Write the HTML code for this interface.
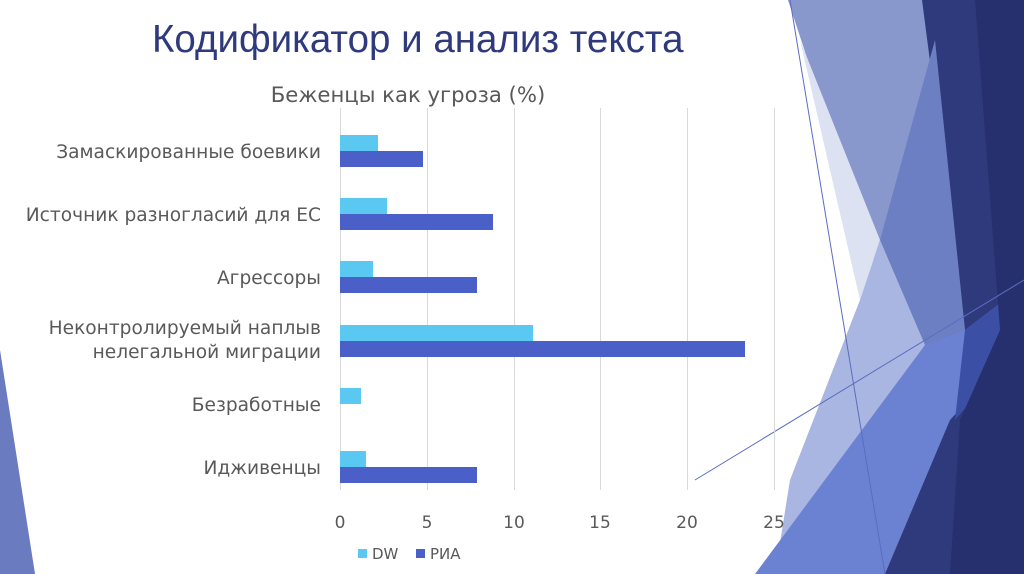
<!DOCTYPE html>
<html><head><meta charset="utf-8"><style>
body{margin:0;width:1024px;height:574px;overflow:hidden;background:#fff;font-family:"DejaVu Sans",sans-serif}
</style></head><body>
<svg width="1024" height="574" viewBox="0 0 1024 574" xmlns="http://www.w3.org/2000/svg" style="position:absolute;left:0;top:0">
<polygon points="0,350 35,574 0,574" fill="#6b7bbf"/>
<polygon points="922,0 1024,0 1024,574 873,574 925,345" fill="#2e3a7c"/>
<polygon points="788,0 922,0 965,330 920,380 870,250" fill="#8898cc"/>
<polygon points="935,40 965,330 920,380 880,240" fill="#6d7fc3"/>
<polygon points="800,40 880,240 860,300" fill="#dde2f3"/>
<polygon points="860,300 880,240 925,345 775,574 790,480" fill="#aab6e2"/>
<polygon points="755,574 925,345 965,330 1024,285 1024,340 950,420 885,574" fill="#6b82d2"/>
<polygon points="965,330 1024,285 1024,340 955,420" fill="#3b50a5"/>
<polygon points="975,0 1024,0 1024,574 950,574 960,420 1000,330" fill="#27306e"/>
<line x1="790" y1="0" x2="885" y2="574" stroke="#5a6cc0" stroke-width="1"/>
<line x1="695" y1="480" x2="1024" y2="280" stroke="#5a6cc0" stroke-width="1"/>
<g stroke="#d9d9d9" stroke-width="1">
<line x1="340.5" y1="108" x2="340.5" y2="490"/><line x1="427.5" y1="108" x2="427.5" y2="490"/>
<line x1="514.5" y1="108" x2="514.5" y2="490"/><line x1="600.5" y1="108" x2="600.5" y2="490"/>
<line x1="687.5" y1="108" x2="687.5" y2="490"/><line x1="774.5" y1="108" x2="774.5" y2="490"/>
</g>
<g fill="#5bc8f2">
<rect x="340" y="135" width="38" height="16"/><rect x="340" y="198" width="47" height="16"/>
<rect x="340" y="261" width="33" height="16"/><rect x="340" y="325" width="193" height="16"/>
<rect x="340" y="388" width="21" height="16"/><rect x="340" y="451" width="26" height="16"/>
</g>
<g fill="#4a60c8">
<rect x="340" y="151" width="83" height="16"/><rect x="340" y="214" width="153" height="16"/>
<rect x="340" y="277" width="137" height="16"/><rect x="340" y="341" width="405" height="16"/>
<rect x="340" y="467" width="137" height="16"/>
</g>
<g fill="#595959" font-size="18.6" text-anchor="end">
<text x="321" y="158">Замаскированные боевики</text>
<text x="321" y="221">Источник разногласий для ЕС</text>
<text x="321" y="284">Агрессоры</text>
<text x="321" y="334">Неконтролируемый наплыв</text>
<text x="321" y="358">нелегальной миграции</text>
<text x="321" y="411">Безработные</text>
<text x="321" y="474">Идживенцы</text>
</g>
<g fill="#595959" font-size="17" text-anchor="middle">
<text x="340" y="528">0</text><text x="427" y="528">5</text><text x="514" y="528">10</text>
<text x="600" y="528">15</text><text x="687" y="528">20</text><text x="774" y="528">25</text>
</g>
<rect x="358" y="549" width="9" height="9" fill="#5bc8f2"/>
<text x="372" y="559" fill="#595959" font-size="15">DW</text>
<rect x="416" y="549" width="9" height="9" fill="#4a60c8"/>
<text x="430" y="559" fill="#595959" font-size="15">РИА</text>
<text x="408" y="102" fill="#595959" font-size="21.2" text-anchor="middle">Беженцы как угроза (%)</text>
<text x="152" y="52" fill="#2f3a7d" font-size="38.5" font-family="Liberation Sans, sans-serif">Кодификатор и анализ текста</text>
</svg>
</body></html>
